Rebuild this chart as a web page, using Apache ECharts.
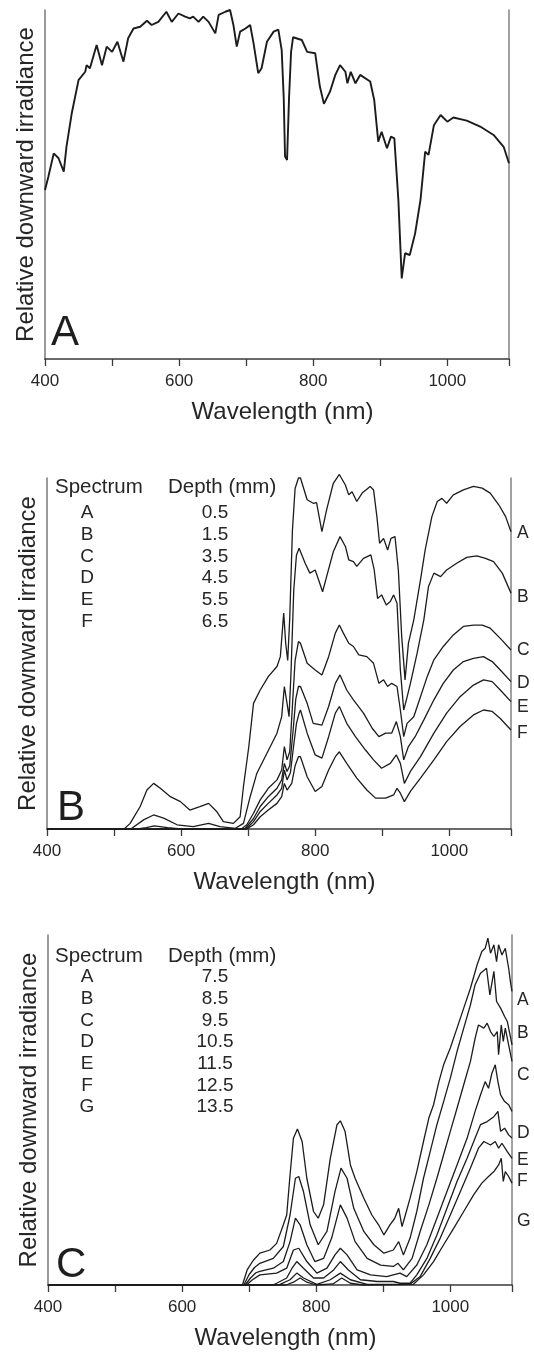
<!DOCTYPE html>
<html><head><meta charset="utf-8">
<script src="https://cdn.jsdelivr.net/npm/echarts@6/dist/echarts.min.js"></script>
<style>html,body{margin:0;padding:0;background:#fff;}#c{width:534px;height:1353px;}</style>
</head><body><div id="c"></div>
<script>
// ---------- data (wavelength nm, relative irradiance 0-100) ----------
const xLabelTicks = [400, 600, 800, 1000];
const xMin = 400, xMax = 1092, xStep = 100;

const solarA = [[400,48.4],[405,52.2],[413,58.9],[420,57.6],[428,53.7],[432,60.8],[440,70.5],[450,79.9],[460,82.3],[462,84.2],[467,83.3],[477,90],[485,84.2],[492,89.5],[500,88],[508,90.9],[517,85.2],[524,91.9],[532,94.7],[542,95.2],[552,96.9],[559,95.7],[569,96.6],[581,99.5],[589,96.6],[599,99],[609,98.1],[616,97.6],[621,98.1],[629,96.6],[636,98.1],[644,96.6],[654,93.3],[659,98.6],[669,99.5],[676,100],[681,95.7],[686,89.5],[691,93.8],[699,94.7],[706,95.7],[711,90.5],[718,81.9],[723,83.3],[731,90.9],[741,93.8],[748,94.4],[753,88.5],[756,75],[758,58],[761,57],[764,75],[767,88],[770,92.2],[783,91.4],[791,88],[803,87.6],[810,78],[816,73.1],[825,76.6],[833,81.4],[840,84.2],[848,82.3],[851,79],[856,82.3],[863,79],[870,81.4],[885,79.5],[891,74.2],[897,62.3],[902,65.1],[910,60.4],[916,63.7],[921,63.2],[927,45.6],[932,23.1],[937,30.3],[944,29.8],[952,36],[960,45.6],[967,59.4],[972,58.5],[980,67],[990,69.9],[1000,68],[1009,69.2],[1029,68.3],[1049,66.6],[1069,64.2],[1084,60.8],[1092,56.1]];

const matB_A = [[400,0],[515,0],[524,1.6],[539,6.4],[549,11.1],[559,13],[569,11.6],[584,9.2],[599,7.8],[613,5.4],[628,6.4],[641,7.3],[653,5],[663,2.1],[678,1.6],[688,3.5],[693,12.1],[701,23.5],[708,35.8],[718,39.6],[730,43.4],[743,46.3],[748,49.1],[753,61.5],[756,52.9],[759,48],[762,60],[766,85],[770,97],[775,100],[778,100],[788,93.8],[797,92.8],[802,93],[810,84.7],[817,90.9],[827,98.5],[836,101],[845,98],[850,95.2],[855,96.1],[862,93.3],[870,95.7],[882,97.6],[887,96.6],[892,89],[896,81.4],[902,82.8],[908,79.5],[913,82.8],[919,83.3],[924,73.8],[929,54.8],[934,42.5],[939,52.9],[947,59.6],[957,71],[964,79.5],[974,89],[982,93.3],[989,94.2],[996,92.8],[1006,95.2],[1021,96.6],[1036,97.6],[1049,97.1],[1061,95.7],[1074,92.3],[1084,89],[1092,84.7]];
const matB_B = [[400,0],[525,0],[544,2.6],[559,4],[574,3.1],[594,1.2],[618,0.7],[641,1.6],[658,0.7],[681,0.2],[693,1.6],[703,9.2],[713,15.9],[728,21.6],[743,27.3],[750,32],[754,40.6],[758,35.8],[761,32],[764,45],[768,68],[772,78],[776,80],[785,75.7],[792,72.9],[800,73.8],[805,71],[811,67.6],[817,71.9],[827,79],[837,83.3],[845,80.5],[850,76.7],[857,76.2],[862,74.8],[872,77.1],[883,78.1],[888,73.8],[893,65.7],[899,66.7],[906,63.8],[912,64.8],[917,66.7],[922,64.3],[927,45.3],[932,33.9],[936,36.8],[942,41.5],[952,50.1],[962,59.6],[969,69.1],[977,72.9],[987,71.9],[996,73.8],[1011,75.7],[1026,77.4],[1041,77.8],[1054,77.1],[1066,76.2],[1079,72.9],[1092,67.2]];
const matB_C = [[400,0],[535,0],[548,0.4],[560,0.9],[580,0.4],[600,0],[690,0],[698,1.2],[708,4.5],[718,8.3],[730,11.6],[743,14],[750,16.8],[754,23.5],[758,19.7],[762,22],[766,35],[770,48],[775,53.4],[778,52.9],[788,47.2],[800,45.3],[810,43.9],[820,49.1],[830,55.8],[836,58.1],[842,55.8],[850,52.9],[857,52],[865,49.6],[877,49.1],[887,47.2],[895,41.5],[902,42.5],[908,40.6],[914,41.5],[922,40.6],[927,33.9],[932,26.3],[937,30.1],[947,32],[957,37.7],[967,43.4],[977,48.2],[991,52],[1006,55.3],[1021,57.7],[1036,58.1],[1049,58.1],[1061,57.2],[1076,54.3],[1092,51]];
const matB_D = [[400,0],[695,0],[708,3],[718,6.4],[730,9.2],[743,11.6],[750,14],[754,18.7],[758,16.4],[762,18],[767,28],[771,37],[775,40.6],[778,40.6],[788,35.8],[797,30.1],[810,29.6],[820,34.9],[830,41.5],[837,43.9],[847,39.6],[857,36.8],[872,33],[885,28.7],[895,26.3],[905,27.3],[914,27.3],[921,30.6],[927,26.3],[932,19.7],[939,23.5],[949,26.3],[962,31.1],[977,36.8],[991,41.5],[1006,45.3],[1021,47.7],[1036,48.6],[1051,49.1],[1064,47.7],[1076,45.3],[1092,42]];
const matB_E = [[400,0],[697,0],[708,2.1],[718,5],[730,7.3],[743,9.7],[750,11.6],[754,16.8],[758,14],[763,16],[768,24],[772,30],[776,33],[778,33.9],[788,27.3],[800,21.1],[810,20.2],[820,26.3],[830,33],[836,34.9],[847,30.1],[860,26.3],[875,22.5],[887,19.7],[899,17.3],[912,18.7],[921,21.1],[927,18.7],[933,13],[942,16.4],[957,20.6],[977,27.3],[996,33],[1016,37.7],[1036,41],[1051,42.5],[1064,42],[1076,39.6],[1092,36.3]];
const matB_F = [[400,0],[698,0],[708,1.2],[718,3.5],[730,5.4],[743,7.3],[750,9.2],[754,13],[758,11.1],[765,13],[770,18],[775,20.6],[778,20.6],[788,14.9],[800,10.7],[810,12.1],[820,16.8],[830,20.6],[836,22],[847,18.7],[862,14.5],[877,11.1],[890,8.8],[905,8.8],[917,9.7],[922,11.6],[927,10.2],[933,7.8],[942,10.7],[957,14.5],[977,19.7],[996,24.9],[1016,29.2],[1036,32.5],[1051,33.9],[1064,33.5],[1076,31.5],[1092,28.2]];

const matC_A = [[400,0],[690,0],[697,4.3],[706,7],[716,9.1],[731,10],[741,11.9],[751,17.2],[756,20],[761,31.5],[766,41.9],[772,44.6],[779,41],[786,30.5],[796,21],[803,19.1],[811,22.9],[821,36.2],[831,45.8],[836,46.9],[843,43.9],[851,34.3],[858,30.5],[871,24.8],[883,20],[893,17.2],[901,14.3],[910,17.2],[917,19],[923,21.9],[928,16.7],[933,20],[940,24.8],[950,32.4],[960,41],[968,47.7],[975,51.5],[983,58.1],[990,62.9],[1000,67.7],[1010,73.4],[1020,79.1],[1030,84.8],[1040,91.5],[1047,95.3],[1052,96.2],[1056,99.1],[1060,94.8],[1065,97.2],[1069,92.4],[1072,97.2],[1077,94.3],[1082,96.2],[1087,90.5],[1090,86.2],[1092,83.9]];
const matC_B = [[400,0],[692,0],[700,3],[708,5],[716,6.2],[736,7.6],[751,11],[761,20],[769,30.5],[774,31],[781,26.7],[791,17.2],[803,11.5],[816,15.3],[828,26.7],[837,33.4],[846,30.5],[856,21.9],[871,15.3],[886,11.5],[901,9.1],[915,10],[923,12.4],[930,8.6],[940,13.4],[950,21],[960,30.5],[970,38.1],[980,45.8],[990,52.4],[1000,59.1],[1010,66.7],[1020,73.4],[1030,80],[1037,85.8],[1045,89.1],[1054,90.5],[1059,82.9],[1065,89.6],[1069,81],[1075,79.1],[1081,76.7],[1085,75.3],[1092,68.6]];
const matC_C = [[400,0],[694,0],[702,2],[710,3.5],[716,3.9],[736,4.8],[751,6.7],[761,12.4],[769,19.1],[776,17.2],[786,11.5],[798,6.7],[811,7.6],[823,13.4],[836,22.9],[846,19.1],[858,12.4],[876,7.6],[896,5.7],[915,5.3],[922,6.2],[930,4.3],[943,7.6],[955,15.3],[968,22.9],[980,30.5],[990,37.2],[1000,43.9],[1010,50.5],[1020,57.2],[1030,63.9],[1037,70.5],[1042,74.3],[1050,73.4],[1055,74.8],[1060,72.4],[1065,71],[1070,72.4],[1072,65.8],[1076,74.3],[1079,69.6],[1082,73.4],[1087,68.6],[1092,63.9]];
const matC_D = [[400,0],[696,0],[705,1.5],[716,2.9],[741,3.4],[756,4.8],[766,10],[774,10.5],[786,6.7],[801,3.4],[816,4.8],[828,8.6],[836,10.5],[846,8.6],[861,4.3],[881,2.9],[905,2.4],[925,3.4],[935,2.4],[950,5.7],[965,11.5],[980,19.1],[995,26.7],[1010,34.3],[1025,41.9],[1037,49.6],[1045,54.3],[1052,58.1],[1057,56.2],[1062,60.5],[1067,62.9],[1071,58.1],[1075,54.3],[1081,52.4],[1087,51.5],[1092,49.6]];
const matC_E = [[400,0],[735,0],[741,0.5],[756,2],[764,4.8],[771,6.7],[781,4.8],[796,2],[811,2],[826,4.3],[836,6.7],[848,4.3],[866,1.5],[891,1],[915,1],[925,0.5],[940,0.5],[950,2.9],[965,7.6],[980,14.3],[995,21.9],[1010,29.6],[1025,36.2],[1037,42],[1045,45.8],[1055,46.7],[1065,48.1],[1071,49.6],[1075,43.9],[1081,44.8],[1087,42.9],[1092,42]];
const matC_F = [[400,0],[740,0],[746,0.2],[761,1.5],[771,3.4],[781,2],[801,0.2],[821,1.5],[836,3.4],[851,1.5],[876,0.2],[940,0.2],[955,2.4],[970,7.6],[985,13.4],[1000,20],[1015,26.7],[1030,33.4],[1042,39.1],[1050,41],[1060,40],[1067,41],[1072,39.1],[1077,40.5],[1085,38.1],[1092,36.2]];
const matC_G = [[400,0],[755,0],[766,0.8],[776,2],[786,0.8],[800,0],[825,0.3],[838,2],[851,0.5],[870,0],[945,0.2],[960,2.9],[975,6.7],[990,11.5],[1005,16.2],[1020,21],[1035,25.8],[1047,29.1],[1057,31],[1065,32.4],[1072,34.3],[1076,36.2],[1079,29.6],[1082,32.4],[1087,31],[1092,29.1]];

const spectraB = ['A','B','C','D','E','F'];
const depthsB = ['0.5','1.5','3.5','4.5','5.5','6.5'];
const spectraC = ['A','B','C','D','E','F','G'];
const depthsC = ['7.5','8.5','9.5','10.5','11.5','12.5','13.5'];
const panelLetters = ['A','B','C'];
const xName = 'Wavelength (nm)';
const yName = 'Relative downward irradiance';

// ---------- layout ----------
const FONT = "'Liberation Sans', Arial, Helvetica, sans-serif";
const TXT = '#262626';
const panels = [
  {top: 10, left: 45, h: 349, series: [solarA], letterY: 333, letterX: 51},
  {top: 478, left: 47, h: 351, series: [matB_A, matB_B, matB_C, matB_D, matB_E, matB_F], letterY: 808, letterX: 57,
   legendTop: 487, rowY0: 513, endY: [533, 597, 650, 683, 707, 733], spectra: spectraB, depths: depthsB},
  {top: 935, left: 48, h: 350, series: [matC_A, matC_B, matC_C, matC_D, matC_E, matC_F, matC_G], letterY: 1265, letterX: 56,
   legendTop: 956, rowY0: 977, endY: [1000, 1033, 1075, 1133, 1160, 1181, 1221], spectra: spectraC, depths: depthsC}
];
const W = 464;

const grid = [], xAxis = [], yAxis = [], series = [], graphic = [];
panels.forEach((p, i) => {
  grid.push({left: p.left, top: p.top, width: W, height: p.h});
  xAxis.push({
    gridIndex: i, type: 'value', min: xMin, max: xMax, interval: xStep,
    axisLine: {show: true, lineStyle: {color: '#3a3a3a', width: 1.7}},
    axisTick: {show: true, inside: false, length: 7, lineStyle: {color: '#3a3a3a', width: 1.3}},
    axisLabel: {show: true, margin: 14, fontFamily: FONT, fontSize: 17, color: TXT,
      formatter: v => xLabelTicks.includes(v) ? String(v) : ''},
    splitLine: {show: false},
    name: xName, nameLocation: 'middle', nameGap: 41,
    nameTextStyle: {fontFamily: FONT, fontSize: 24, color: TXT, padding: [0, 0, 0, 11]}
  });
  yAxis.push({
    gridIndex: i, type: 'value', min: 0, max: 100, position: 'left',
    axisLine: {show: true, onZero: false, lineStyle: {color: '#808080', width: 1.6}},
    axisTick: {show: false}, axisLabel: {show: false}, splitLine: {show: false},
    name: yName, nameLocation: 'middle', nameGap: 7,
    nameTextStyle: {fontFamily: FONT, fontSize: 24, color: TXT}
  });
  yAxis.push({
    gridIndex: i, type: 'value', min: 0, max: 100, position: 'right',
    axisLine: {show: true, onZero: false, lineStyle: {color: '#8a8a8a', width: 1.6}},
    axisTick: {show: false}, axisLabel: {show: false}, splitLine: {show: false}
  });
  p.series.forEach(d => {
    series.push({
      type: 'line', xAxisIndex: i, yAxisIndex: i * 2, data: d,
      showSymbol: false, symbol: 'none', clip: false, silent: true,
      lineStyle: {color: '#1c1c1c', width: i === 0 ? 1.9 : 1.3}
    });
  });
  graphic.push({type: 'text', x: p.letterX, y: p.letterY,
    style: {text: panelLetters[i], font: '42px ' + FONT, fill: '#1e1e1e', verticalAlign: 'middle', align: 'left'}});
  if (p.spectra) {
    graphic.push({type: 'text', x: 55, y: p.legendTop,
      style: {text: 'Spectrum', font: '20.5px ' + FONT, fill: TXT, verticalAlign: 'middle', align: 'left'}});
    graphic.push({type: 'text', x: 168, y: p.legendTop,
      style: {text: 'Depth (mm)', font: '20.5px ' + FONT, fill: TXT, verticalAlign: 'middle', align: 'left'}});
    p.spectra.forEach((s, k) => {
      const y = p.rowY0 + k * 21.7;
      graphic.push({type: 'text', x: 87, y: y,
        style: {text: s, font: '19px ' + FONT, fill: TXT, verticalAlign: 'middle', align: 'center'}});
      graphic.push({type: 'text', x: 215, y: y,
        style: {text: p.depths[k], font: '19px ' + FONT, fill: TXT, verticalAlign: 'middle', align: 'center'}});
      graphic.push({type: 'text', x: 517, y: p.endY[k],
        style: {text: s, font: '17.5px ' + FONT, fill: TXT, verticalAlign: 'middle', align: 'left'}});
    });
  }
});

const chart = echarts.init(document.getElementById('c'), null, {renderer: 'canvas'});
chart.setOption({
  animation: false, backgroundColor: '#fff',
  grid, xAxis, yAxis, series, graphic
});
</script></body></html>
